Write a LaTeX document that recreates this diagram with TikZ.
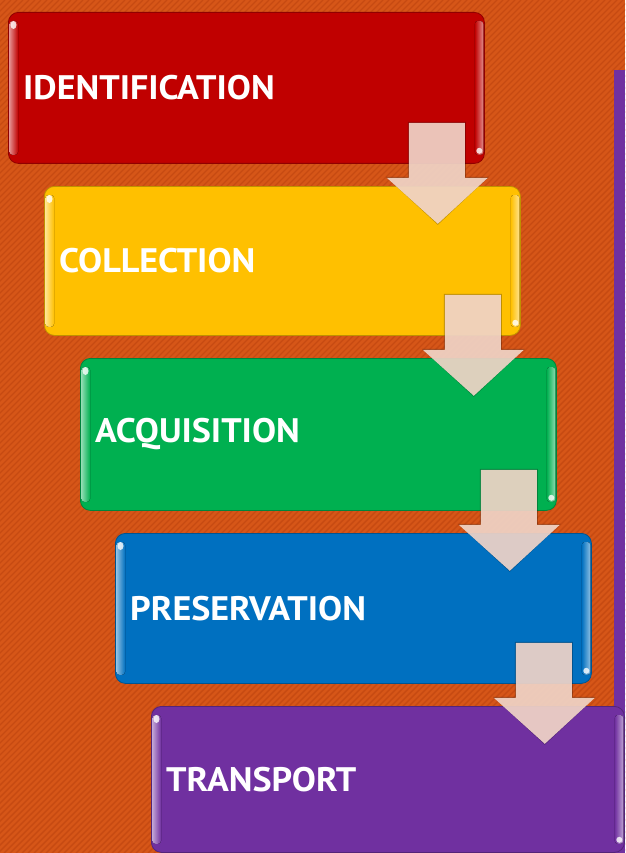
\documentclass[tikz,border=0pt]{standalone}
\usepackage{fontspec}
\setmainfont{PT Sans}
\usetikzlibrary{calc}
\definecolor{bgor}{HTML}{D65618}
\definecolor{bgstripe}{HTML}{C64A12}
\definecolor{cred}{HTML}{C00000}
\definecolor{cyel}{HTML}{FFC000}
\definecolor{cgrn}{HTML}{00B050}
\definecolor{cblu}{HTML}{0070C0}
\definecolor{cpur}{HTML}{7030A0}
\definecolor{arrowc}{HTML}{F6D9CC}
\tikzset{
 stagebox/.style={draw=#1!75!black, line width=0.8pt, fill=#1, rounded corners=10pt, minimum width=476pt, anchor=north west, inner sep=0pt},
 lbl/.style={anchor=west, text=white, font=\bfseries\fontsize{34}{40}\selectfont, inner sep=0pt},
 blockarrow/.style={fill=arrowc, fill opacity=0.9, draw=none},
 arrowshadow/.style={fill=black, fill opacity=0.25, draw=none},
}
\newcommand\stagegloss[2]{%
  \fill[left color=#2!45!white, right color=#2, rounded corners=3pt] ($(#1.north west)+(1.5,9)$) rectangle ($(#1.south west)+(10,-9)$);
  \fill[left color=#2, right color=#2!45!white, rounded corners=3pt] ($(#1.north east)+(-10,9)$) rectangle ($(#1.south east)+(-1.5,-9)$);
  \fill[white, opacity=0.8] ($(#1.north west)+(5.5,13)$) ellipse (3pt and 4pt);
  \fill[white, opacity=0.8] ($(#1.south east)+(-5.5,-13)$) circle (3pt);
}
\newcommand\widetext[1]{\scalebox{1.06}[1]{#1}}
\begin{document}
\begin{tikzpicture}[x=1pt,y=-1pt]
\useasboundingbox (0,0) rectangle (625,853);
% background
\fill[bgor] (0,0) rectangle (625,853);
\begin{scope}
\clip (0,0) rectangle (625,853);
\foreach \i in {-860,-854,...,630} \draw[bgstripe, line width=1.4pt] (\i,853) -- (\i+853,0);
\end{scope}
% right bar
\fill[cpur] (614,70) rectangle (625,853);
% boxes
\node[stagebox=cred, minimum height=151pt] (b1) at (8,12) {};
\node[stagebox=cyel, minimum height=149pt] (b2) at (44,186) {};
\node[stagebox=cgrn, minimum height=152pt] (b3) at (80,358) {};
\node[stagebox=cblu, minimum height=150pt] (b4) at (115,533) {};
\node[stagebox=cpur, minimum height=146pt, minimum width=473pt] (b5) at (151,706) {};
\stagegloss{b1}{cred}
\stagegloss{b2}{cyel}
\stagegloss{b3}{cgrn}
\stagegloss{b4}{cblu}
\stagegloss{b5}{cpur}
% labels
\node[lbl] (t1) at ([xshift=15pt]b1.west) {\widetext{IDENTIFICATION}};
\node[lbl] (t2) at ([xshift=15pt]b2.west) {\widetext{COLLECTION}};
\node[lbl] (t3) at ([xshift=15pt]b3.west) {\widetext{ACQUISITION}};
\node[lbl] (t4) at ([xshift=15pt]b4.west) {\widetext{PRESERVATION}};
\node[lbl] (t5) at ([xshift=15pt]b5.west) {\widetext{TRANSPORT}};
% block arrows
\foreach \k in {1,...,4}{
  \fill[arrowshadow, shift={(b\k.south east)}] (-77,-42) -- (-19,-42) -- (-19,13) -- (4,13) -- (-47,61) -- (-99,13) -- (-77,13) -- cycle;
  \fill[blockarrow, shift={(b\k.south east)}] (-76,-41) -- (-20,-41) -- (-20,14) -- (3,14) -- (-47,60) -- (-98,14) -- (-76,14) -- cycle;
}
\end{tikzpicture}
\end{document}
